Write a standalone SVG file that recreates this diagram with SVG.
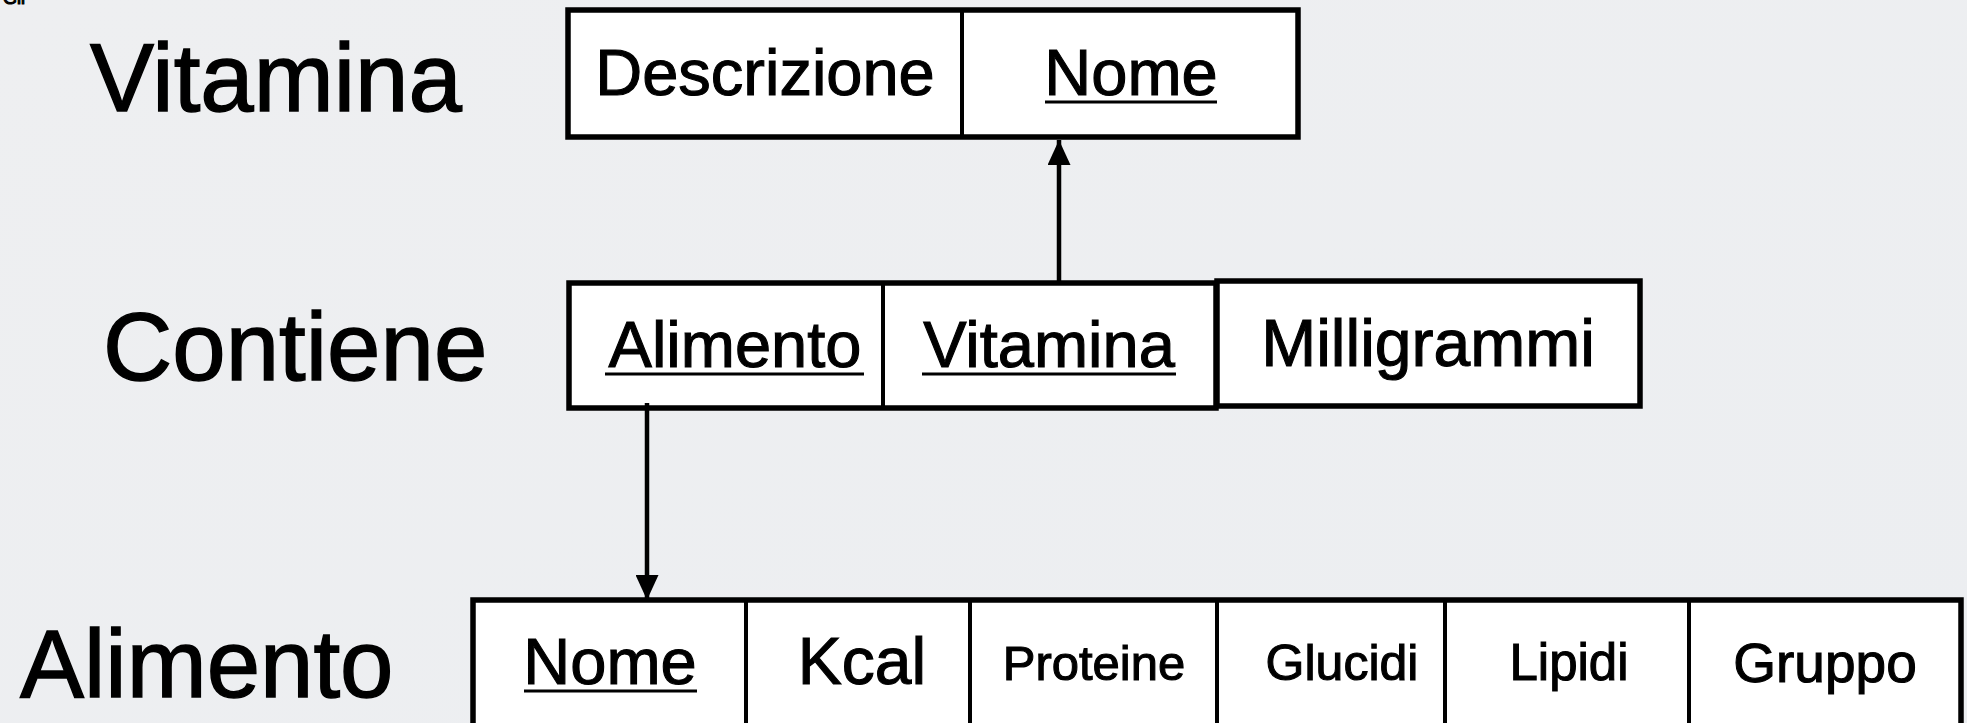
<svg xmlns="http://www.w3.org/2000/svg" width="1967" height="723" viewBox="0 0 1967 723">
  <defs>
    <linearGradient id="bg" x1="0" y1="0" x2="1" y2="1">
      <stop offset="0" stop-color="#eeeff1"/>
      <stop offset="1" stop-color="#eceef1"/>
    </linearGradient>
    <marker id="arrow" viewBox="0 0 25 23" refX="25" refY="11.5" markerWidth="25" markerHeight="23" markerUnits="userSpaceOnUse" orient="auto">
      <path d="M0,0 L25,11.5 L0,23 Z" fill="#000"/>
    </marker>
  </defs>
  <style>
    .title { font-family: "Liberation Sans", Arial, sans-serif; font-size: 96px; fill: #000; stroke: #000; stroke-width: 1.4; }
    .cell { fill: #fff; stroke: #000; stroke-width: 5.5; }
    .div { stroke: #000; stroke-width: 4; }
    .lbl { font-family: "Liberation Sans", Arial, sans-serif; fill: #000; text-anchor: middle; stroke: #000; stroke-width: 1.1; }
    .ul { stroke: #000; stroke-width: 3; }
    .edge { stroke: #000; stroke-width: 4.5; fill: none; }
  </style>

  <rect x="0" y="0" width="1967" height="723" fill="url(#bg)"/>
  <text class="lbl" x="14" y="4" font-size="18" stroke-width="0" text-anchor="start">Gli</text>

  <!-- Vitamina relation -->
  <g id="vitamina">
    <text class="title" x="90" y="111">Vitamina</text>
    <rect class="cell" x="568" y="10" width="730" height="127"/>
    <line class="div" x1="962" y1="10" x2="962" y2="137" stroke-width="6"/>
    <text class="lbl" x="765" y="95" font-size="65">Descrizione</text>
    <text class="lbl" x="1131" y="95" font-size="65">Nome</text>
    <line class="ul" x1="1045" y1="102" x2="1217" y2="102"/>
  </g>

  <!-- Contiene relation -->
  <g id="contiene">
    <text class="title" x="103" y="380">Contiene</text>
    <rect class="cell" x="569" y="283" width="647" height="125"/>
    <line class="div" x1="883" y1="283" x2="883" y2="408"/>
    <rect class="cell" x="1217" y="281" width="423" height="125"/>
    <text class="lbl" x="735" y="367" font-size="65">Alimento</text>
    <line class="ul" x1="605" y1="374" x2="864" y2="374"/>
    <text class="lbl" x="1049" y="367" font-size="65">Vitamina</text>
    <line class="ul" x1="922" y1="374" x2="1176" y2="374"/>
    <text class="lbl" x="1428" y="366" font-size="66">Milligrammi</text>
  </g>

  <!-- Alimento relation -->
  <g id="alimento">
    <text class="title" x="20" y="697">Alimento</text>
    <rect class="cell" x="473" y="600" width="1488" height="140"/>
    <line class="div" x1="746" y1="600" x2="746" y2="723"/>
    <line class="div" x1="970" y1="600" x2="970" y2="723"/>
    <line class="div" x1="1217" y1="600" x2="1217" y2="723"/>
    <line class="div" x1="1445" y1="600" x2="1445" y2="723"/>
    <line class="div" x1="1689" y1="600" x2="1689" y2="723"/>
    <text class="lbl" x="610" y="684" font-size="65">Nome</text>
    <line class="ul" x1="524" y1="691" x2="697" y2="691"/>
    <text class="lbl" x="862" y="684" font-size="66">Kcal</text>
    <text class="lbl" x="1094" y="680" font-size="49">Proteine</text>
    <text class="lbl" x="1342" y="680" font-size="50">Glucidi</text>
    <text class="lbl" x="1569" y="680" font-size="51">Lipidi</text>
    <text class="lbl" x="1825" y="682" font-size="55">Gruppo</text>
  </g>

  <!-- foreign key references -->
  <g id="connectors">
    <line class="edge" x1="1059" y1="283" x2="1059" y2="140" marker-end="url(#arrow)"/>
    <line class="edge" x1="647" y1="403" x2="647" y2="600" marker-end="url(#arrow)"/>
  </g>
</svg>
